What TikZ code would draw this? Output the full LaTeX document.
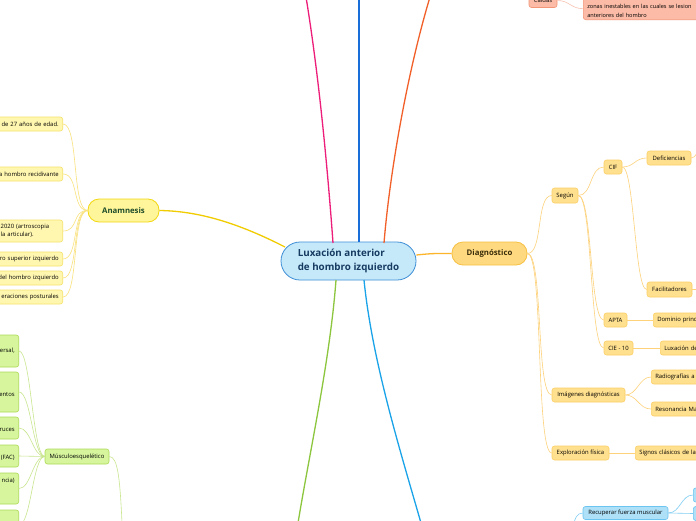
\documentclass[tikz,border=0pt]{standalone}
\usepackage{fontspec}
\setmainfont{Open Sans}
\definecolor{cfill}{HTML}{C6E9FA}
\definecolor{cdraw}{HTML}{3E8FD6}
\definecolor{ctext}{HTML}{163B61}
\definecolor{afill}{HTML}{FFF59A}
\definecolor{adraw}{HTML}{F2D811}
\definecolor{atext}{HTML}{1E4D2B}
\definecolor{acfill}{HTML}{FFF7B0}
\definecolor{acdraw}{HTML}{F5E26A}
\definecolor{aline}{HTML}{F9E27D}
\definecolor{dfill}{HTML}{FFD97F}
\definecolor{ddraw}{HTML}{F6C042}
\definecolor{dtext}{HTML}{3A2D0A}
\definecolor{dcfill}{HTML}{FFE08E}
\definecolor{dcdraw}{HTML}{FCD067}
\definecolor{dline}{HTML}{FDD27B}
\definecolor{mfill}{HTML}{D6F59D}
\definecolor{mdraw}{HTML}{AEDB58}
\definecolor{mline}{HTML}{C9E68F}
\definecolor{sfill}{HTML}{FBBBA6}
\definecolor{sdraw}{HTML}{F39678}
\definecolor{sline}{HTML}{F8C3B2}
\definecolor{bfill}{HTML}{AEE0F8}
\definecolor{bdraw}{HTML}{6CC4F0}
\definecolor{bline}{HTML}{7FCDF3}
\definecolor{pinkc}{HTML}{ED1E79}
\definecolor{bluec}{HTML}{1A6ED8}
\definecolor{orangec}{HTML}{F2602A}
\definecolor{yellowc}{HTML}{F0CC00}
\definecolor{diagc}{HTML}{FCB42A}
\definecolor{greenc}{HTML}{8CC63E}
\definecolor{lbluec}{HTML}{1AA3E8}
\newcommand\smallfnt{\fontsize{5.9}{8}\selectfont}
\tikzset{
  mainline/.style={line width=1.3pt},
  centernode/.style={draw=cdraw, fill=cfill, line width=0.8pt, rounded corners=19pt,
    minimum width=135pt, minimum height=38pt, align=left, text=ctext,
    font=\fontsize{9.8}{14}\selectfont\bfseries},
  topicnode/.style={rounded corners=11pt, minimum height=23pt, line width=0.8pt,
    font=\fontsize{7.8}{9}\selectfont\bfseries, inner sep=0pt},
  leaf/.style={rounded corners=2.5pt, minimum height=14pt, line width=0.6pt,
    font=\smallfnt, inner xsep=4pt, inner ysep=1pt},
  aleaf/.style={leaf, draw=acdraw, fill=acfill},
  dleaf/.style={leaf, draw=dcdraw, fill=dcfill},
  mleaf/.style={leaf, draw=mdraw, fill=mfill},
  sleaf/.style={leaf, draw=sdraw, fill=sfill},
  bleaf/.style={leaf, draw=bdraw, fill=bfill},
  aconn/.style={draw=aline, line width=0.6pt},
  dconn/.style={draw=dline, line width=0.6pt},
  mconn/.style={draw=mline, line width=0.6pt},
  sconn/.style={draw=sline, line width=0.6pt},
  bconn/.style={draw=bline, line width=0.6pt},
}
\begin{document}
\begin{tikzpicture}[x=1pt,y=-1pt]
\useasboundingbox (0,0) rectangle (696,520);
\fill[white] (0,0) rectangle (696,520);

% off-frame coordinates for main branches
\coordinate (pinkend) at (306,-3);
\coordinate (blueend) at (359,-3);
\coordinate (orangeend) at (430,-3);
\coordinate (greenend) at (298,523);
\coordinate (lblueend) at (421,523);

% central node
\node[centernode] (c) at (348.5,261) {Luxación anterior\\de hombro izquierdo};

% main topics
\node[topicnode, draw=adraw, fill=afill, text=atext, minimum width=71pt] (ana) at (123.5,210.5) {Anamnesis};
\node[topicnode, draw=ddraw, fill=dfill, text=dtext, minimum width=75pt] (dgn) at (489.5,253.5) {Diagnóstico};

% main branches
\draw[mainline, pinkc] (333,243) .. controls (327,160) and (318,70) .. (pinkend);
\draw[mainline, bluec] (359,242) -- (blueend);
\draw[mainline, orangec] (384,243) .. controls (390,170) and (408,70) .. (orangeend);
\draw[mainline, yellowc] (285,247) .. controls (240,224) and (200,211) .. (ana.east);
\draw[mainline, diagc] (c.east) ++(0,-6) .. controls (435,253) and (440,253.5) .. (dgn.west);
\draw[mainline, greenc] (336,280) .. controls (330,360) and (310,450) .. (greenend);
\draw[mainline, lbluec] (364,280) .. controls (372,360) and (400,450) .. (lblueend);

% Anamnesis leaves
\node[aleaf, anchor=east, text width=70pt, align=right] (a1) at (63,124) {e de 27 años de edad.};
\node[aleaf, anchor=east, text width=70pt, align=right] (a2) at (63,174) {a hombro recidivante};
\node[aleaf, anchor=east, text width=58pt, align=left, minimum height=22pt] (a3) at (63,231) {2020 (artroscopia\\la articular).};
\node[aleaf, anchor=east, text width=70pt, align=right] (a4) at (63,259) {ro superior izquierdo};
\node[aleaf, anchor=east, text width=70pt, align=right] (a5) at (63,278) {del hombro izquierdo};
\node[aleaf, anchor=east, text width=70pt, align=right] (a6) at (63,297) {eraciones posturales};
\foreach \n in {a1,a2,a3,a4,a5,a6}
  \draw[aconn] (ana.west) .. controls +(-16,0) and +(16,0) .. (\n.east);

% Musculoesqueletico
\node[mleaf, minimum width=64pt, minimum height=15pt, inner sep=0pt] (mus) at (77,456.5) {Músculoesquelético};
\node[mleaf, anchor=east, text width=40pt, align=right, minimum height=32pt] (m1) at (19,351) {ersal,};
\node[mleaf, anchor=east, text width=40pt, align=right, minimum height=40pt] (m2) at (19,392) {\mbox{}\\\mbox{}\\entos\\\mbox{}};
\node[mleaf, anchor=east, text width=40pt, align=right, minimum height=22pt] (m3) at (19,428) {\mbox{}\\ruces};
\node[mleaf, anchor=east, text width=40pt, align=right, minimum height=22pt] (m4) at (19,456) {\mbox{}\\(FAC)};
\node[mleaf, anchor=east, text width=40pt, align=right, minimum height=31pt] (m5) at (19,488.5) {ncia)\\\mbox{}\\\mbox{}};
\node[mleaf, anchor=east, text width=40pt, minimum height=30pt] (m6) at (19,525) {};
\foreach \n in {m1,m2,m3,m4,m5,m6}
  \draw[mconn] (mus.west) .. controls +(-12,0) and +(12,0) .. (\n.east);
\coordinate (musin) at (122,523);
\draw[mconn] (mus.east) .. controls (118,456.5) and (120,480) .. (musin);

% Diagnostico subtree
\node[dleaf, minimum width=26pt, minimum height=15pt, inner sep=0pt] (seg) at (565,195.5) {Según};
\node[dleaf, minimum width=18pt, inner sep=0pt] (cif) at (613,167) {CIF};
\node[dleaf, minimum width=44pt, inner sep=0pt] (def) at (669,158) {Deficiencias};
\node[dleaf, minimum width=45pt, minimum height=15pt, inner sep=0pt] (fac) at (669.5,289.5) {Facilitadores};
\node[dleaf, minimum width=23pt, inner sep=0pt] (apta) at (615.5,320) {APTA};
\node[dleaf, anchor=west, text width=70pt, align=left] (dom) at (653,320) {Dominio princ};
\node[dleaf, minimum width=29pt, inner sep=0pt] (cie) at (618.5,348) {CIE - 10};
\node[dleaf, anchor=west, text width=70pt, align=left] (lux) at (660,348) {Luxación de};
\node[dleaf, minimum width=73pt, inner sep=0pt] (img) at (588.5,395) {Imágenes diagnósticas};
\node[dleaf, anchor=west, text width=70pt, align=left] (rad) at (651,377) {Radiografías a};
\node[dleaf, anchor=west, text width=70pt, align=left] (res) at (651,409) {Resonancia Ma};
\node[dleaf, minimum width=57pt, inner sep=0pt] (exp) at (580.5,453) {Exploración física};
\node[dleaf, anchor=west, text width=70pt, align=left] (sig) at (635,453) {Signos clásicos de la};

\foreach \n in {seg,img,exp}
  \draw[dconn] (dgn.east) .. controls +(16,0) and +(-16,0) .. (\n.west);
\foreach \n in {cif,apta,cie}
  \draw[dconn] (seg.east) .. controls +(14,0) and +(-14,0) .. (\n.west);
\foreach \n in {def,fac}
  \draw[dconn] (cif.east) .. controls +(12,0) and +(-12,0) .. (\n.west);
\foreach \n in {rad,res}
  \draw[dconn] (img.east) .. controls +(12,0) and +(-12,0) .. (\n.west);
\draw[dconn] (apta.east) -- (dom.west);
\draw[dconn] (cie.east) -- (lux.west);
\draw[dconn] (exp.east) -- (sig.west);
\coordinate (defout) at (700,150);
\coordinate (facout) at (700,289.5);
\draw[dconn] (def.east) .. controls +(5,0) and +(-3,0) .. (defout);
\draw[dconn] (fac.east) -- (facout);

% top right (salmon)
\node[sleaf, minimum width=28pt, inner sep=0pt] (cai) at (543,0.5) {Caídas};
\node[sleaf, anchor=south west, text width=130pt, align=left, font=\fontsize{5.6}{9}\selectfont, inner ysep=2pt] (zon) at (583,20) {\mbox{}\\zonas inestables en las cuales se lesion\\anteriores del hombro};
\draw[sconn] (cai.east) .. controls +(12,0) and +(-12,0) .. (zon.west);

% bottom right (light blue)
\node[bleaf, minimum width=85pt, inner sep=0pt, minimum height=13pt] (rec) at (625.5,513) {Recuperar fuerza muscular};
\node[bleaf, anchor=west, minimum width=20pt] (rc1) at (693,495) {};
\node[bleaf, anchor=west, minimum width=20pt] (rc2) at (693,513.5) {};
\draw[bconn] (rec.east) .. controls +(12,0) and +(-12,0) .. (rc1.west);
\draw[bconn] (rec.east) -- (rc2.west);
\coordinate (recin) at (574,523);
\draw[bconn] (rec.west) .. controls +(-6,0) and +(1,-4) .. (recin);
\end{tikzpicture}
\end{document}
